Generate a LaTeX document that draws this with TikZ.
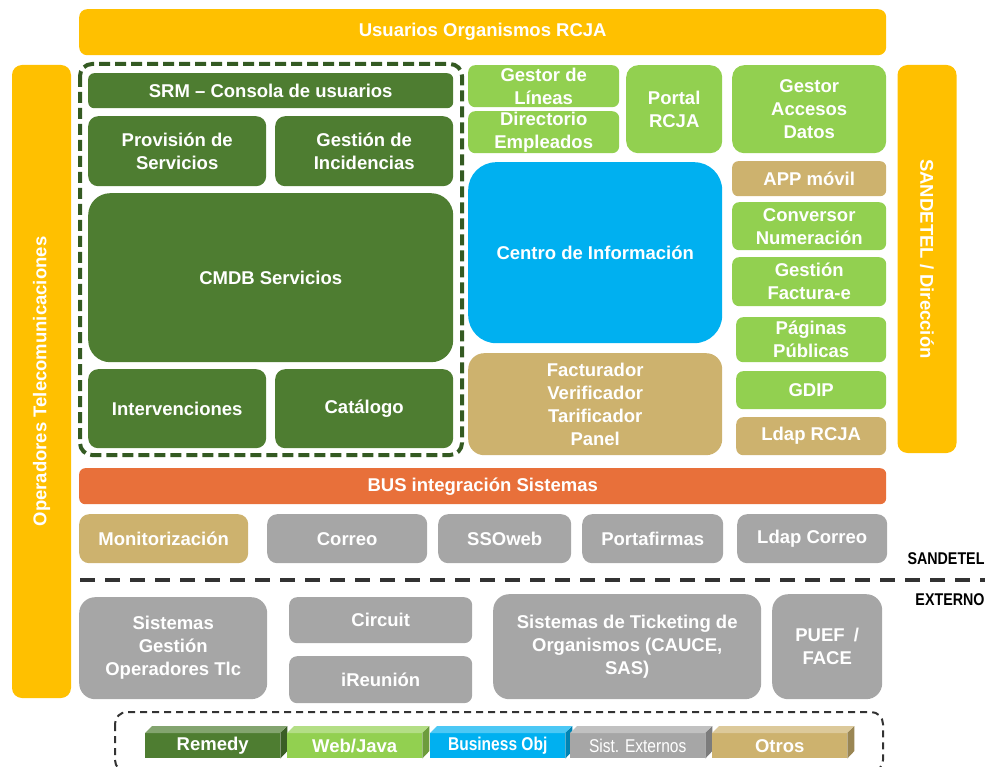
\documentclass[tikz,border=0pt]{standalone}
\usepackage{fontspec}
\setmainfont{Liberation Sans}
\newfontfamily\narrowfont[FakeStretch=0.84]{Liberation Sans}

\definecolor{usuYellow}{HTML}{FFC000}
\definecolor{remGreen}{HTML}{4E7D31}
\definecolor{webGreen}{HTML}{92D050}
\definecolor{boBlue}{HTML}{00B0F0}
\definecolor{extGray}{HTML}{A6A6A6}
\definecolor{otroTan}{HTML}{CDB26E}
\definecolor{busOrange}{HTML}{E8703A}
\definecolor{frameGreen}{HTML}{345A22}
\definecolor{lineGray}{HTML}{333333}

\tikzset{
    blk/.style = {anchor = north west, inner sep = 0pt, align = center,
        text = white, rounded corners = 8pt,
        font = \fontsize{18.5}{23}\selectfont\bfseries},
    vbar/.style = {blk, anchor = center, rounded corners = 10pt},
    zone/.style = {font = \fontsize{17}{20}\selectfont\narrowfont\bfseries},
    legbox/.style = {anchor = north west, inner sep = 0pt, text = white,
        minimum width = 135, minimum height = 25,
        font = \fontsize{18.5}{20}\selectfont}
}

\begin{document}
\begin{tikzpicture}[x = 1pt, y = -1pt]
    \useasboundingbox (0, 0) rectangle (985, 767);

    %% top and side bars
    \node[blk, fill = usuYellow, minimum width = 807, minimum height = 46]
        (usuarios) at (79, 9) {Usuarios Organismos RCJA};
    \node[vbar, fill = usuYellow, rotate = 90, minimum width = 633,
        minimum height = 59] (operadores) at (41.5, 381.5)
        {Operadores Telecomunicaciones};
    \node[vbar, fill = usuYellow, rotate = -90, minimum width = 388,
        minimum height = 59] (direccion) at (927, 259)
        {SANDETEL / Direcci\'on};

    %% SRM block
    \draw[frameGreen, line width = 4, dash pattern = on 11pt off 5pt,
        rounded corners = 12] (80, 64) rectangle (462, 455);
    \node[blk, fill = remGreen, rounded corners = 6pt, minimum width = 365,
        minimum height = 35] (srm) at (88, 73) {SRM -- Consola de usuarios};
    \node[blk, fill = remGreen, rounded corners = 10pt, minimum width = 178,
        minimum height = 70] (provision) at (88, 116) {Provisi\'on de\\Servicios};
    \node[blk, fill = remGreen, rounded corners = 10pt, minimum width = 178,
        minimum height = 70] (incidencias) at (275, 116) {Gesti\'on de\\Incidencias};
    \node[blk, fill = remGreen, rounded corners = 22pt, minimum width = 365,
        minimum height = 169] (cmdb) at (88, 193) {CMDB Servicios};
    \node[blk, fill = remGreen, rounded corners = 10pt, minimum width = 178,
        minimum height = 79] (intervenciones) at (88, 369) {Intervenciones};
    \node[blk, fill = remGreen, rounded corners = 10pt, minimum width = 178,
        minimum height = 79] (catalogo) at (275, 369) {Cat\'alogo};

    %% web applications
    \node[blk, fill = webGreen, rounded corners = 7pt, minimum width = 151,
        minimum height = 42] (lineas) at (468, 65) {Gestor de\\L\'ineas};
    \node[blk, fill = webGreen, rounded corners = 7pt, minimum width = 151,
        minimum height = 42] (directorio) at (468, 111) {Directorio\\Empleados};
    \node[blk, fill = webGreen, rounded corners = 12pt, minimum width = 96,
        minimum height = 88] (portal) at (626, 65) {Portal\\RCJA};
    \node[blk, fill = webGreen, rounded corners = 12pt, minimum width = 154,
        minimum height = 88] (accesos) at (732, 65) {Gestor\\Accesos\\Datos};
    \node[blk, fill = boBlue, rounded corners = 28pt, minimum width = 254,
        minimum height = 181] (centro) at (468, 162) {Centro de Informaci\'on};
    \node[blk, fill = otroTan, rounded corners = 16pt, minimum width = 254,
        minimum height = 102] (facturador) at (468, 353)
        {Facturador\\Verificador\\Tarificador\\Panel};

    %% right column
    \node[blk, fill = otroTan, rounded corners = 6pt, minimum width = 154,
        minimum height = 35] (app) at (732, 161) {APP m\'ovil};
    \node[blk, fill = webGreen, rounded corners = 7pt, minimum width = 154,
        minimum height = 48] (conversor) at (732, 202) {Conversor\\Numeraci\'on};
    \node[blk, fill = webGreen, rounded corners = 7pt, minimum width = 154,
        minimum height = 49] (factura) at (732, 257) {Gesti\'on\\Factura-e};
    \node[blk, fill = webGreen, rounded corners = 7pt, minimum width = 150,
        minimum height = 45] (paginas) at (736, 317) {P\'aginas\\P\'ublicas};
    \node[blk, fill = webGreen, rounded corners = 7pt, minimum width = 150,
        minimum height = 38] (gdip) at (736, 371) {GDIP};
    \node[blk, fill = otroTan, rounded corners = 7pt, minimum width = 150,
        minimum height = 38] (ldaprcja) at (736, 417) {Ldap RCJA};

    %% bus and shared services
    \node[blk, fill = busOrange, rounded corners = 6pt, minimum width = 807,
        minimum height = 36] (bus) at (79, 468) {BUS integraci\'on Sistemas};
    \node[blk, fill = otroTan, rounded corners = 10pt, minimum width = 169,
        minimum height = 49] (monitor) at (79, 514) {Monitorizaci\'on};
    \node[blk, fill = extGray, rounded corners = 10pt, minimum width = 160,
        minimum height = 49] (correo) at (267, 514) {Correo};
    \node[blk, fill = extGray, rounded corners = 10pt, minimum width = 133,
        minimum height = 49] (ssoweb) at (438, 514) {SSOweb};
    \node[blk, fill = extGray, rounded corners = 10pt, minimum width = 141,
        minimum height = 49] (portafirmas) at (582, 514) {Portafirmas};
    \node[blk, fill = extGray, rounded corners = 10pt, minimum width = 150,
        minimum height = 49] (ldapcorreo) at (737, 514) {Ldap Correo};

    %% boundary
    \draw[lineGray, line width = 4, dash pattern = on 15pt off 10pt]
        (80, 580) -- (985, 580);
    \node[zone] (sandetel) at (946, 559) {SANDETEL};
    \node[zone] (externo) at (950, 600) {EXTERNO};

    %% external systems
    \node[blk, fill = extGray, rounded corners = 16pt, minimum width = 188,
        minimum height = 102] (operadorestlc) at (79, 597)
        {Sistemas\\Gesti\'on\\Operadores Tlc};
    \node[blk, fill = extGray, rounded corners = 8pt, minimum width = 183,
        minimum height = 46] (circuit) at (289, 597) {Circuit};
    \node[blk, fill = extGray, rounded corners = 8pt, minimum width = 183,
        minimum height = 47] (ireunion) at (289, 656) {iReuni\'on};
    \node[blk, fill = extGray, rounded corners = 16pt, minimum width = 268,
        minimum height = 105] (ticketing) at (493, 594)
        {Sistemas de Ticketing de\\Organismos (CAUCE,\\SAS)};
    \node[blk, fill = extGray, rounded corners = 16pt, minimum width = 110,
        minimum height = 105] (puef) at (772, 594) {PUEF\enspace/\\FACE};

    %% legend
    \draw[lineGray, line width = 2, dash pattern = on 7pt off 5pt,
        rounded corners = 12] (115, 712) rectangle (883, 772);
    \foreach \x/\col/\lbl/\nm in {145/remGreen/{\bfseries Remedy}/remedy,
        287/webGreen/{\bfseries Web/Java}/web,
        430/boBlue/{\narrowfont\bfseries Business Obj}/bobj,
        570/extGray/{\narrowfont Sist. Externos}/ext,
        712/otroTan/{\bfseries Otros}/otros} {
        \node[legbox, fill = \col] (leg\nm) at (\x, 733) {\lbl};
        \fill[\col!70!white] (leg\nm.north west) -- ++(7, -7) -- ++(135, 0)
            -- (leg\nm.north east) -- cycle;
        \fill[\col!75!black] (leg\nm.north east) -- ++(7, -7) -- ++(0, 25)
            -- (leg\nm.south east) -- cycle;
    }
\end{tikzpicture}
\end{document}
